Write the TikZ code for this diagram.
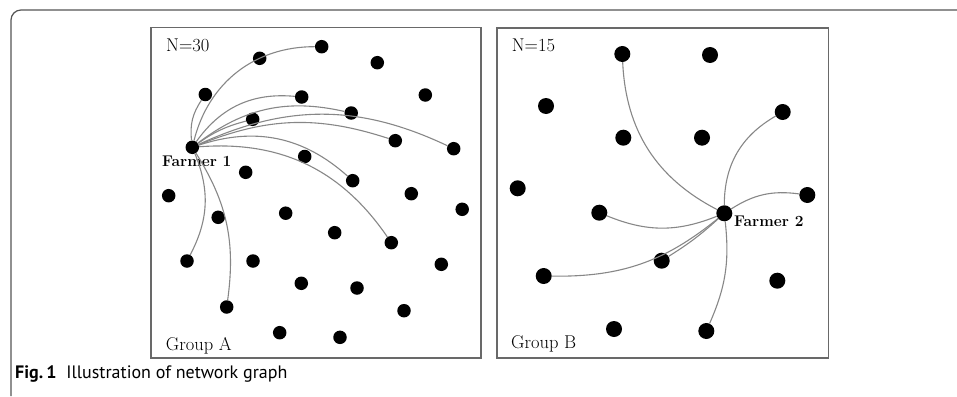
\documentclass[tikz,border=0pt]{standalone}
\usepackage{fontspec}
\newfontfamily\captionfont{PT Sans}
\definecolor{framegray}{RGB}{85,85,85}
\definecolor{panelgray}{RGB}{105,105,105}
\definecolor{linkgray}{RGB}{135,135,135}
\usetikzlibrary{positioning}

\begin{document}
\begin{tikzpicture}[
  x=1pt,y=1pt,
  panel/.style={draw=panelgray,line width=1.6pt,minimum width=330pt,minimum height=330pt,inner sep=0pt},
  dotA/.style={circle,fill=black,inner sep=0pt,minimum size=13.5pt},
  dotB/.style={circle,fill=black,inner sep=0pt,minimum size=16pt},
  link/.style={draw=linkgray,line width=1.1pt},
  tag/.style={anchor=base west,inner sep=0pt,font=\fontsize{18.5}{20}\selectfont},
  farmer/.style={anchor=base west,inner sep=0pt,font=\fontsize{15.5}{17}\selectfont\bfseries},
]
  \useasboundingbox (0,0) rectangle (957,-396);

  % outer figure frame
  \draw[framegray,line width=1.2pt,rounded corners=10pt] (11,-396) -- (11,-10) -- (957,-10);

  % the two panels
  \node[panel] (panelA) at (316.2,-192.7) {};
  \node[panel,minimum width=331.6pt] (panelB) at (662.5,-192.8) {};

  % Group A members
  \foreach \name/\x/\y in {a1/321.7/-46.7, a2/259.7/-58.3, a3/377.3/-62.7, a4/205.3/-94.5,
      a5/301.7/-97, a6/425.3/-95, a7/351.2/-113, a8/252.7/-119.3, a9/395.3/-140.7,
      a10/453.7/-148.7, a11/304.7/-156.5, a12/245.7/-172.3, a13/352.7/-180.7,
      a14/168.7/-195.7, a15/411.3/-193.7, a16/462.2/-209.3, a17/218.2/-217.3,
      a18/285.7/-213.2, a19/334.7/-232.7, a20/391.3/-242.7, a21/187/-261,
      a22/253/-261, a23/441.3/-264.3, a24/301.3/-283.3, a25/357/-288,
      a26/226.7/-307, a27/404/-310.7, a28/279.7/-332.7, a29/340/-337.3}
    \node[dotA] (\name) at (\x,\y) {};
  \node[dotA] (f1) at (192.3,-147.3) {};

  % Group B members
  \foreach \name/\x/\y in {b1/622.3/-54, b2/710/-55, b3/546/-106, b4/782.7/-112,
      b5/623.3/-137.7, b6/702/-137.7, b7/517.7/-188.3, b8/807.3/-195,
      b9/599.3/-212.7, b10/661.7/-260.7, b11/543.7/-276, b12/777.3/-280.7,
      b13/614/-329, b14/706.3/-331}
    \node[dotB] (\name) at (\x,\y) {};
  \node[dotB] (f2) at (724.3,-213.3) {};

  % labels
  \node[tag] (nA) at (166,-51.7) {N=30};
  \node[tag] (nB) at (511.7,-51.7) {N=15};
  \node[tag] (gA) at (165.7,-350) {Group A};
  \node[tag] (gB) at (511,-348.5) {Group B};
  \node[farmer] (lf1) at (162,-166.7) {Farmer 1};
  \node[farmer] (lf2) at (734,-226.7) {Farmer 2};

  % links of farmer 1
  \draw[link] (f1) to[bend left=20] (a4);
  \draw[link] (f1) to[bend left=38] (a1);
  \draw[link] (f1) to[bend left=30] (a5);
  \draw[link] (f1) to[bend left=25] (a7);
  \draw[link] (f1) to[bend left=10] (a8);
  \draw[link] (f1) to[bend left=20] (a9);
  \draw[link] (f1) to[bend left=25] (a10);
  \draw[link] (f1) to[bend left=30] (a13);
  \draw[link] (f1) to[bend left=30] (a20);
  \draw[link] (f1) to[bend left=25] (a21);
  \draw[link] (f1) to[bend left=20] (a26);

  % links of farmer 2
  \draw[link] (f2) to[bend left=30] (b1);
  \draw[link] (f2) to[bend left=30] (b4);
  \draw[link] (f2) to[bend left=20] (b8);
  \draw[link] (f2) to[bend left=22] (b9);
  \draw[link] (f2) to[bend left=5] (b10);
  \draw[link] (f2) to[bend left=20] (b11);
  \draw[link] (f2) to[bend left=15] (b14);

  % caption
  \node[anchor=base west,inner sep=0pt,font=\captionfont\fontsize{18}{20}\selectfont] (cap) at (15,-378)
    {\textbf{Fig.\,1}\hspace{10pt}Illustration of network graph};
\end{tikzpicture}
\end{document}
